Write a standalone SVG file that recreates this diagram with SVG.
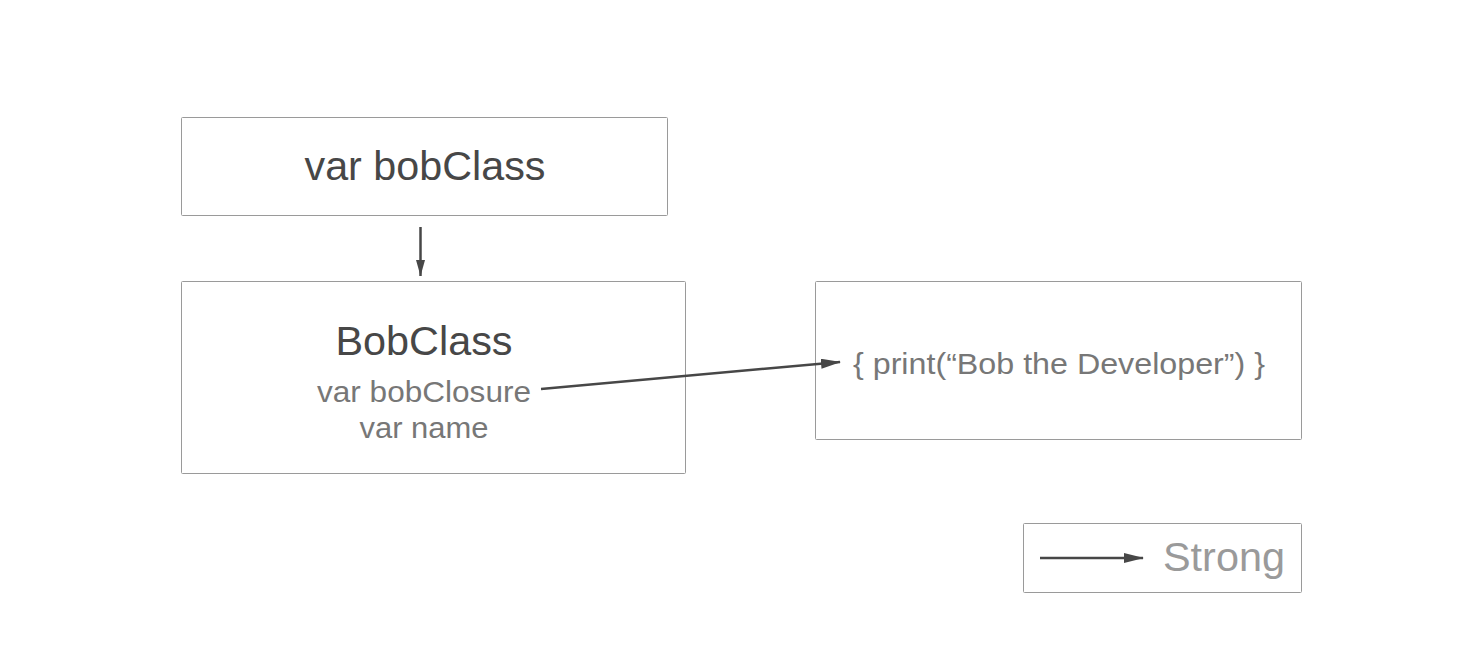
<svg xmlns="http://www.w3.org/2000/svg" width="1482" height="664" viewBox="0 0 1482 664">
<style>
.box{fill:#fff;stroke:#9a9a9a;stroke-width:1}
.t{font-family:"Liberation Sans",Arial,sans-serif;text-anchor:middle}
.big{font-size:40px;fill:#474747}
.small{font-size:30px;fill:#777}
.leg{font-size:40px;fill:#9a9a9a}
.conn{stroke:#474747;stroke-width:2.5;fill:none}
</style>
<defs>
<marker id="ah" markerWidth="16" markerHeight="10" refX="16" refY="5" orient="auto" markerUnits="userSpaceOnUse">
<path d="M0,0.5 L16,5 L0,9.5 Z" fill="#474747"/>
</marker>
<marker id="ahb" markerWidth="20" markerHeight="10" refX="19" refY="5" orient="auto" markerUnits="userSpaceOnUse">
<path d="M0,0 L20,5 L0,10 Z" fill="#474747"/>
</marker>
</defs>
<rect width="1482" height="664" fill="#fff"/>
<g id="varBobClass">
<rect class="box" x="181.5" y="117.5" width="486" height="98" rx="1"/>
<text class="t big" x="425" y="180" textLength="241" lengthAdjust="spacingAndGlyphs">var bobClass</text>
</g>
<g id="BobClass">
<rect class="box" x="181.5" y="281.5" width="504" height="192" rx="1"/>
<text class="t big" x="424" y="355" textLength="177" lengthAdjust="spacingAndGlyphs">BobClass</text>
<text class="t small" x="424" y="402" textLength="214" lengthAdjust="spacingAndGlyphs">var bobClosure</text>
<text class="t small" x="424" y="438" textLength="129" lengthAdjust="spacingAndGlyphs">var name</text>
</g>
<g id="closure">
<rect class="box" x="815.5" y="281.5" width="486" height="158" rx="1"/>
<text class="t small" x="1059" y="374" textLength="412" lengthAdjust="spacingAndGlyphs">{ print(“Bob the Developer”) }</text>
</g>
<g id="legend">
<rect class="box" x="1023.5" y="523.5" width="278" height="69" rx="1"/>
<line class="conn" x1="1040" y1="558" x2="1143" y2="558" marker-end="url(#ahb)"/>
<text class="t leg" x="1224" y="571" textLength="122" lengthAdjust="spacingAndGlyphs">Strong</text>
</g>
<g id="connectors">
<line class="conn" x1="420.5" y1="227" x2="420.5" y2="276" stroke-width="2" marker-end="url(#ah)"/>
<line class="conn" x1="541" y1="389" x2="840" y2="362" marker-end="url(#ahb)"/>
</g>
</svg>
